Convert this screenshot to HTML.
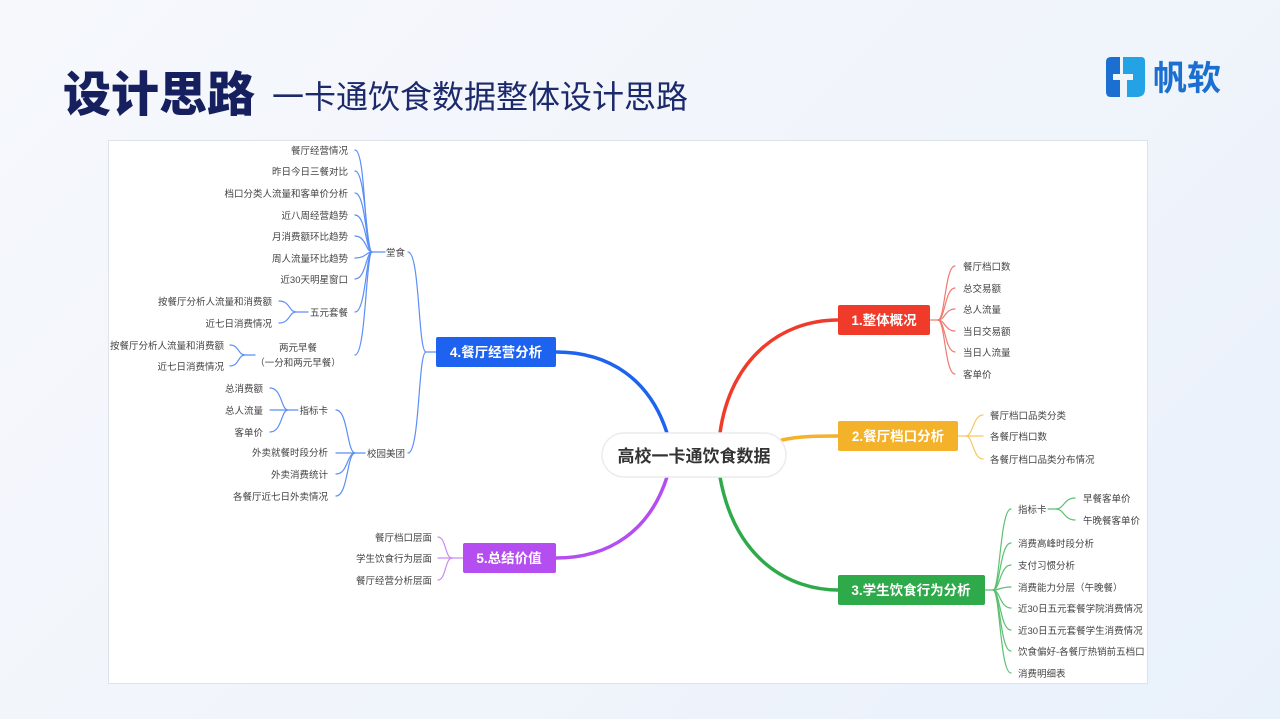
<!DOCTYPE html>
<html><head><meta charset="utf-8"><style>
html,body{margin:0;padding:0;width:1280px;height:719px;overflow:hidden;}
body{background:linear-gradient(135deg,#f6f8fc 0%,#f0f4fb 60%,#e9f1fb 100%);font-family:"Liberation Sans","Noto Sans CJK SC",sans-serif;}
svg text{font-family:"Liberation Sans","Noto Sans CJK SC",sans-serif;}
</style></head><body>
<svg width="1280" height="719" viewBox="0 0 1280 719" xmlns="http://www.w3.org/2000/svg">
<text x="63" y="111" font-size="48" font-weight="900" fill="#17205e">设计思路</text>
<text x="272" y="108" font-size="32" fill="#1c2a6c">一卡通饮食数据整体设计思路</text>
<!-- logo -->
<path d="M1106,62 q0,-5 5,-5 h9 v17 h-7 v6 h7 v17 h-9 q-5,0 -5,-5z" fill="#1a6fd0"/>
<path d="M1123,57 h18 q4,0 4,4 v28 q0,8 -8,8 h-10 v-17 h6 v-6 h-10z" fill="#23a3e6"/>
<text x="1153" y="90" font-size="34" font-weight="bold" fill="#1a6fd0">帆软</text>
<!-- panel -->
<rect x="108.5" y="140.5" width="1039" height="543" fill="#fff" stroke="#dde3ec"/>
<g fill="none" stroke-linecap="round">
<path d="M720,433 C730,360 780,320 838,320" stroke="#f03a2a" stroke-width="3.5"/>
<path d="M782,440 C800,436 820,436 838,436" stroke="#f4b22a" stroke-width="3.5"/>
<path d="M720,477 C735,560 790,590 838,590" stroke="#2eaa4a" stroke-width="3.5"/>
<path d="M667,433 C650,380 610,352 556,352" stroke="#1e63f0" stroke-width="3.5"/>
<path d="M667,477 C650,530 610,558 556,558" stroke="#b44ef0" stroke-width="3.5"/>
<g stroke="#f07a70" stroke-width="1.2">
<path d="M930,320 H938 C945,320 945,266 955,266"/><path d="M938,320 C945,320 945,288 955,288"/><path d="M938,320 C945,320 945,309 955,309"/><path d="M938,320 C945,320 945,331 955,331"/><path d="M938,320 C945,320 945,352 955,352"/><path d="M938,320 C945,320 945,374 955,374"/>
</g>
<g stroke="#f6c860" stroke-width="1.2">
<path d="M958,436 H966 C973,436 973,415 983,415"/><path d="M966,436 H983"/><path d="M966,436 C973,436 973,459 983,459"/>
</g>
<g stroke="#5cc070" stroke-width="1.2">
<path d="M985,590 H993 C1000,590 1000,509 1011,509"/><path d="M993,590 C1000,590 1000,543 1011,543"/><path d="M993,590 C1000,590 1000,565 1011,565"/><path d="M993,590 C1000,590 1000,587 1011,587"/><path d="M993,590 C1000,590 1000,608 1011,608"/><path d="M993,590 C1000,590 1000,630 1011,630"/><path d="M993,590 C1000,590 1000,651 1011,651"/><path d="M993,590 C1000,590 1000,673 1011,673"/>
<path d="M1048,509 H1056 C1064,509 1064,498 1075,498"/><path d="M1056,509 C1064,509 1064,520 1075,520"/>
</g>
<g stroke="#5b8ff5" stroke-width="1.2">
<path d="M436,352 H426 C418,352 420,252 408,252"/><path d="M426,352 C418,352 420,453 408,453"/>
<path d="M385,252 H372 C364,252 366,150 355,150"/><path d="M372,252 C366,252 366,171 355,171"/><path d="M372,252 C366,252 366,193 355,193"/><path d="M372,252 C366,252 366,215 355,215"/><path d="M372,252 C366,252 366,236 355,236"/><path d="M372,252 C366,252 366,258 355,258"/><path d="M372,252 C366,252 366,279 355,279"/><path d="M372,252 C366,252 366,312 355,312"/><path d="M372,252 C366,252 366,355 355,355"/>
<path d="M308,312 H296 C289,312 290,301 279,301"/><path d="M296,312 C289,312 290,323 279,323"/>
<path d="M255,355 H245 C238,355 239,345 230,345"/><path d="M245,355 C238,355 239,366 230,366"/>
<path d="M365,453 H355 C347,453 348,410 336,410"/><path d="M355,453 H336"/><path d="M355,453 C347,453 348,474 336,474"/><path d="M355,453 C347,453 348,496 336,496"/>
<path d="M298,410 H288 C281,410 282,388 270,388"/><path d="M288,410 H270"/><path d="M288,410 C281,410 282,432 270,432"/>
</g>
<g stroke="#c98af5" stroke-width="1.2">
<path d="M463,558 H452 C445,558 446,537 438,537"/><path d="M452,558 H438"/><path d="M452,558 C445,558 446,580 438,580"/>
</g>
</g>
<!-- center -->
<rect x="602" y="433" width="184" height="44" rx="22" fill="#fff" stroke="#ececec" stroke-width="1.5"/>
<text x="694" y="462" font-size="17" font-weight="bold" fill="#333" text-anchor="middle">高校一卡通饮食数据</text>
<g font-size="13.5" font-weight="bold" fill="#fff" text-anchor="middle">
<rect x="838" y="305" width="92" height="30" rx="2" fill="#f03a2a"/><text x="884" y="325">1.整体概况</text>
<rect x="838" y="421" width="120" height="30" rx="2" fill="#f4b22a"/><text x="898" y="441">2.餐厅档口分析</text>
<rect x="838" y="575" width="147" height="30" rx="2" fill="#2eaa4a"/><text x="911" y="595">3.学生饮食行为分析</text>
<rect x="436" y="337" width="120" height="30" rx="2" fill="#1e63f0"/><text x="496" y="357">4.餐厅经营分析</text>
<rect x="463" y="543" width="93" height="30" rx="2" fill="#b44ef0"/><text x="509" y="563">5.总结价值</text>
</g>
<g font-size="9.5" fill="#444">
<text x="963" y="270">餐厅档口数</text><text x="963" y="292">总交易额</text><text x="963" y="313">总人流量</text><text x="963" y="335">当日交易额</text><text x="963" y="356">当日人流量</text><text x="963" y="378">客单价</text>
<text x="990" y="419">餐厅档口品类分类</text><text x="990" y="440">各餐厅档口数</text><text x="990" y="463">各餐厅档口品类分布情况</text>
<text x="1018" y="513">指标卡</text><text x="1083" y="502">早餐客单价</text><text x="1083" y="524">午晚餐客单价</text>
<text x="1018" y="547">消费高峰时段分析</text><text x="1018" y="569">支付习惯分析</text><text x="1018" y="591">消费能力分层（午晚餐）</text><text x="1018" y="612">近30日五元套餐学院消费情况</text><text x="1018" y="634">近30日五元套餐学生消费情况</text><text x="1018" y="655">饮食偏好-各餐厅热销前五档口</text><text x="1018" y="677">消费明细表</text>
</g>
<g font-size="9.5" fill="#444" text-anchor="end">
<text x="405" y="256">堂食</text><text x="405" y="457">校园美团</text>
<text x="348" y="154">餐厅经营情况</text><text x="348" y="175">昨日今日三餐对比</text><text x="348" y="197">档口分类人流量和客单价分析</text><text x="348" y="219">近八周经营趋势</text><text x="348" y="240">月消费额环比趋势</text><text x="348" y="262">周人流量环比趋势</text><text x="348" y="283">近30天明星窗口</text><text x="348" y="316">五元套餐</text>
<text x="272" y="305">按餐厅分析人流量和消费额</text><text x="272" y="327">近七日消费情况</text>
<text x="224" y="349">按餐厅分析人流量和消费额</text><text x="224" y="370">近七日消费情况</text>
<text x="328" y="414">指标卡</text><text x="328" y="456">外卖就餐时段分析</text><text x="328" y="478">外卖消费统计</text><text x="328" y="500">各餐厅近七日外卖情况</text>
<text x="263" y="392">总消费额</text><text x="263" y="414">总人流量</text><text x="263" y="436">客单价</text>
<text x="432" y="541">餐厅档口层面</text><text x="432" y="562">学生饮食行为层面</text><text x="432" y="584">餐厅经营分析层面</text>
</g>
<g font-size="9.5" fill="#444" text-anchor="middle">
<text x="298" y="351">两元早餐</text><text x="298" y="366">（一分和两元早餐）</text>
</g>
</svg>
</body></html>
